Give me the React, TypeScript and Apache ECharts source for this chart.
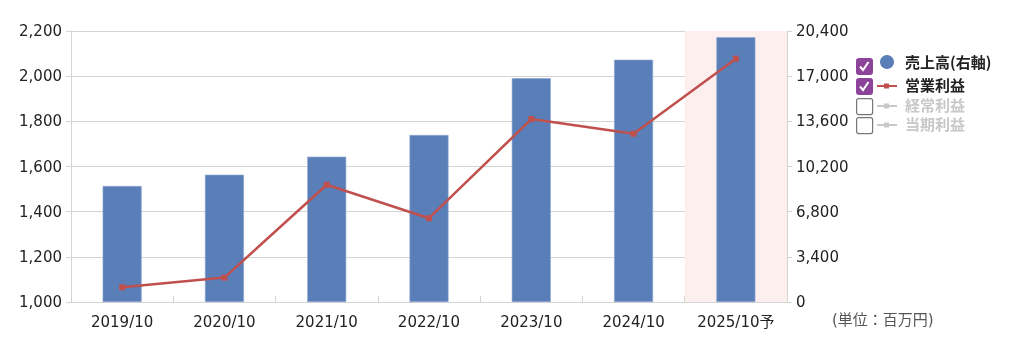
import React, { useEffect, useRef } from "react";
import * as echarts from "echarts";

const categories = ["2019/10", "2020/10", "2021/10", "2022/10", "2023/10", "2024/10", "2025/10予"];
const sales = [8730, 9580, 10940, 12570, 16840, 18240, 19930];
const operatingProfit = [1065, 1108, 1519, 1371, 1810, 1745, 2077];
const forecastBand = [null, null, null, null, null, null, 20400];
const leftAxis = { min: 1000, max: 2200, interval: 200 };
const rightAxis = { min: 0, max: 20400, interval: 3400 };
const legendItems = [
  { name: "売上高(右軸)", checked: true, icon: "circle" },
  { name: "営業利益", checked: true, icon: "line" },
  { name: "経常利益", checked: false, icon: "line" },
  { name: "当期利益", checked: false, icon: "line" },
];
const unitLabel = "(単位：百万円)";

const FONT = "'DejaVu Sans', 'Noto Sans CJK JP', sans-serif";
const BAR = "#5a7eb8";
const LINE = "#c0504d";
const PURPLE = "#8c4399";
const GRID = "#d4d4d4";

const fmt = (v: number) => v.toLocaleString("en-US");

function legendGraphics() {
  const els: any[] = [];
  const ys = [58, 78, 98, 117];
  legendItems.forEach((it, i) => {
    const y = ys[i];
    const on = it.checked;
    els.push({
      type: "rect",
      left: 856,
      top: y,
      shape: { width: 16, height: 16, r: 2 },
      style: on ? { fill: PURPLE, stroke: PURPLE } : { fill: "#fff", stroke: "#777", lineWidth: 1.2 },
    });
    if (on) {
      els.push({
        type: "polyline",
        x: 856,
        y: y,
        shape: { points: [[4, 8.5], [7, 12], [12.5, 4]] },
        style: { stroke: "#fff", lineWidth: 2, fill: null },
      });
    }
    const col = on ? (it.icon === "circle" ? BAR : LINE) : "#c8c8c8";
    if (it.icon === "circle") {
      els.push({ type: "circle", shape: { cx: 887, cy: y + 4, r: 7 }, style: { fill: col } });
    } else {
      els.push({ type: "line", shape: { x1: 877, y1: y + 8, x2: 897, y2: y + 8 }, style: { stroke: col, lineWidth: 2 } });
      els.push({ type: "rect", shape: { x: 884, y: y + 5.5, width: 5, height: 5 }, style: { fill: col } });
    }
    els.push({
      type: "text",
      left: 905,
      top: y + (it.icon === "circle" ? -4 : -1),
      style: {
        text: it.name,
        fill: on ? "#222" : "#c8c8c8",
        font: `bold 15px 'Noto Sans CJK JP', 'DejaVu Sans', sans-serif`,
      },
    });
  });
  els.push({
    type: "text",
    left: 832,
    top: 312,
    style: { text: unitLabel, fill: "#555", font: `15px ${FONT}` },
  });
  return els;
}

export default function App() {
  const ref = useRef<HTMLDivElement>(null);
  useEffect(() => {
    const chart = echarts.init(ref.current!, null, { renderer: "svg" });
    chart.setOption({
      animation: false,
      grid: { left: 71, right: 237, top: 31, bottom: 42, containLabel: false },
      xAxis: [
        {
          type: "category",
          data: categories,
          axisLine: { lineStyle: { color: GRID, width: 1 } },
          axisTick: { show: true, inside: true, length: 6, lineStyle: { color: GRID } },
          axisLabel: { color: "#222", fontSize: 15, fontFamily: FONT, margin: 12 },
        },
        { type: "category", data: categories, show: false },
      ],
      yAxis: [
        {
          type: "value",
          min: leftAxis.min,
          max: leftAxis.max,
          interval: leftAxis.interval,
          axisLine: { show: true, lineStyle: { color: GRID } },
          axisTick: { show: true, length: 5, lineStyle: { color: GRID } },
          splitLine: { lineStyle: { color: GRID, width: 1 } },
          axisLabel: { color: "#222", fontSize: 15, fontFamily: FONT, margin: 9, formatter: fmt },
        },
        {
          type: "value",
          position: "right",
          min: rightAxis.min,
          max: rightAxis.max,
          interval: rightAxis.interval,
          axisLine: { show: true, lineStyle: { color: GRID } },
          axisTick: { show: true, length: 5, lineStyle: { color: GRID } },
          splitLine: { show: false },
          axisLabel: { color: "#222", fontSize: 15, fontFamily: FONT, margin: 9, formatter: fmt },
        },
      ],
      series: [
        {
          type: "bar",
          xAxisIndex: 1,
          yAxisIndex: 1,
          data: forecastBand,
          barWidth: "100%",
          itemStyle: { color: "#fcefee" },
          z: 0,
          silent: true,
        },
        {
          type: "bar",
          name: "売上高(右軸)",
          xAxisIndex: 0,
          yAxisIndex: 1,
          data: sales,
          barWidth: 39,
          itemStyle: { color: BAR, borderColor: "#8fa8d2", borderWidth: 0.6 },
          z: 2,
        },
        {
          type: "line",
          name: "営業利益",
          xAxisIndex: 0,
          yAxisIndex: 0,
          data: operatingProfit,
          symbol: "rect",
          symbolSize: 6,
          lineStyle: { color: LINE, width: 2.5 },
          itemStyle: { color: LINE },
          z: 3,
        },
      ],
      graphic: legendGraphics(),
    });
    return () => chart.dispose();
  }, []);
  return <div ref={ref} style={{ position: "fixed", left: 0, top: 0, width: 1024, height: 344 }} />;
}
